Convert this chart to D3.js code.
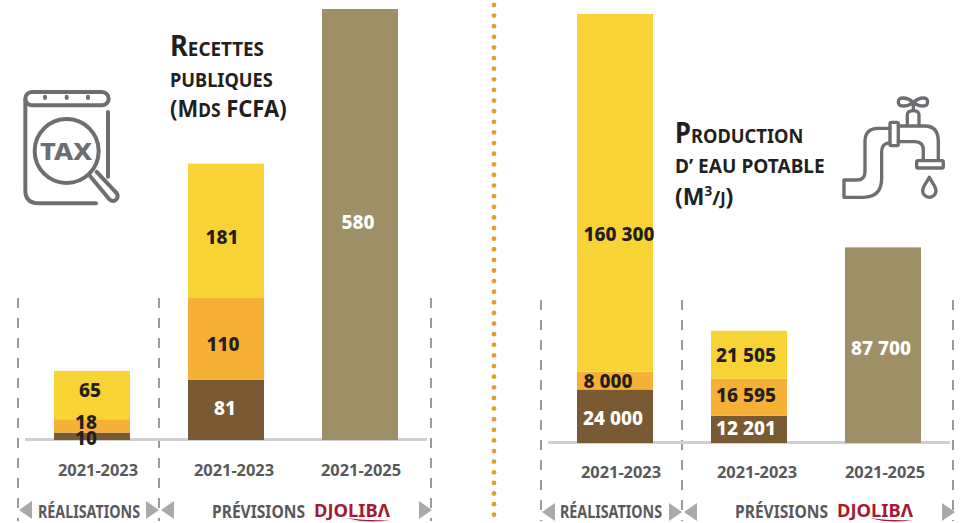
<!DOCTYPE html>
<html>
<head>
<meta charset="utf-8">
<script src="https://cdn.jsdelivr.net/npm/d3@7"></script>
<style>
  html, body { margin: 0; padding: 0; background: #fff; }
  svg { display: block; font-family: "Noto Sans", sans-serif; }
</style>
</head>
<body>
<div id="chart"></div>
<script>
const periods = ["2021-2023", "2021-2023", "2021-2025"];
const segmentKeys = ["base", "middle", "top", "forecast"];

// Recettes publiques (Mds FCFA)
const recettesBase = [10, 81, 0];
const recettesMiddle = [18, 110, 0];
const recettesTop = [65, 181, 0];
const recettesForecast = [0, 0, 580];

// Production d'eau potable (m3/j)
const eauBase = [24000, 12201, 0];
const eauMiddle = [8000, 16595, 0];
const eauTop = [160300, 21505, 0];
const eauForecast = [0, 0, 87700];

const segmentColor = { base: "#7a5a33", middle: "#f5b035", top: "#f7d335", forecast: "#9e8f67" };
const labelColor = { base: "#fff", middle: "#231f20", top: "#231f20", forecast: "#fff" };
const grey = "#58595b";
const iconGrey = "#6d6e71";
const arrowGrey = "#a7a9ac";
const red = "#a6192e";

const svg = d3.select("#chart").append("svg").attr("width", 970).attr("height", 523);

const spaced = d3.formatLocale({ thousands: " ", grouping: [3], decimal: ",", currency: ["", ""] }).format(",");

function rows(base, middle, top, forecast) {
    return periods.map((p, i) => ({ i: i, base: base[i], middle: middle[i], top: top[i], forecast: forecast[i] }));
}

function drawPanel(o) {
    const g = svg.append("g");
    const stacked = d3.stack().keys(segmentKeys)(o.data);

    const x = d3.scalePoint().domain(d3.range(periods.length)).range(o.centers);
    const y = d3.scaleLinear().domain([0, o.maxValue]).range([o.baseline, o.top]);
    const barW = 76;

    // dashed separators
    o.dashes.forEach(dx => {
        g.append("line").attr("x1", dx).attr("x2", dx).attr("y1", o.dashTop).attr("y2", 521)
            .attr("stroke", "#808285").attr("stroke-width", 1.6).attr("stroke-dasharray", "10 10");
    });

    // baseline
    g.append("rect").attr("x", o.lineX[0]).attr("width", o.lineX[1] - o.lineX[0])
        .attr("y", o.baseline - 2).attr("height", 3).attr("fill", "#cfd0d2");

    stacked.forEach(s => {
        g.selectAll(null).data(s.filter(d => d[1] > d[0])).enter().append("rect")
            .attr("x", d => x(d.data.i) - barW / 2)
            .attr("width", barW)
            .attr("y", d => y(d[1]))
            .attr("height", d => y(d[0]) - y(d[1]))
            .attr("fill", segmentColor[s.key]);
    });

    stacked.forEach(s => {
        g.selectAll(null).data(s.filter(d => d[1] > d[0])).enter().append("text")
            .attr("x", d => x(d.data.i) + o.labelDx[s.key][d.data.i])
            .attr("y", d => (y(d[0]) + y(d[1])) / 2 + 7 + o.labelDy[s.key][d.data.i])
            .attr("text-anchor", "middle")
            .attr("font-size", 19)
            .attr("font-weight", 800)
            .attr("fill", d => (o.darkFirst && d.data.i === 0) ? "#231f20" : labelColor[s.key])
            .text(d => spaced(d[1] - d[0]));
    });

    // period labels
    periods.forEach((p, i) => {
        g.append("text").attr("x", o.periodX[i]).attr("y", o.periodY)
            .attr("text-anchor", "middle").attr("font-size", 16.4).attr("font-weight", 700)
            .attr("fill", grey).text(p);
    });

    // arrows
    o.arrowsLeft.forEach(a => {
        g.append("path").attr("d", `M${a},${o.arrowY + 9} L${a + 13},${o.arrowY} V${o.arrowY + 18} Z`).attr("fill", arrowGrey);
    });
    o.arrowsRight.forEach(a => {
        g.append("path").attr("d", `M${a},${o.arrowY} L${a + 13},${o.arrowY + 9} L${a},${o.arrowY + 18} Z`).attr("fill", arrowGrey);
    });

    g.append("text").attr("x", o.realX).attr("y", o.footY).attr("font-size", 17).attr("font-weight", 700)
        .attr("fill", grey).attr("textLength", 102).attr("lengthAdjust", "spacingAndGlyphs").text("RÉALISATIONS");
    g.append("text").attr("x", o.prevX).attr("y", o.footY).attr("font-size", 17).attr("font-weight", 700)
        .attr("fill", grey).attr("textLength", 93).attr("lengthAdjust", "spacingAndGlyphs").text("PRÉVISIONS");

    // logo
    g.append("text").attr("x", o.prevX + 102).attr("y", o.footY - 1).attr("font-size", 18).attr("font-weight", 700)
        .attr("fill", red).attr("textLength", 76).attr("lengthAdjust", "spacingAndGlyphs").text("DJOLIBΛ");
    g.append("path")
        .attr("d", `M${o.prevX + 135},${o.footY} Q${o.prevX + 155},${o.footY + 3} ${o.prevX + 178},${o.footY + 2} Q${o.prevX + 155},${o.footY + 6} ${o.prevX + 135},${o.footY} Z`)
        .attr("fill", red);
}

function drawTitle(x, lines) {
    lines.forEach(line => {
        const t = svg.append("text").attr("fill", "#231f20").attr("font-weight", 700)
            .attr("transform", `translate(${x},${line.y}) scale(${line.sx},1)`);
        line.parts.forEach(p => {
            const s = t.append("tspan").attr("font-size", p[1]).text(p[0]);
            if (p[2]) s.attr("dy", p[2]);
        });
    });
}

drawPanel({
    data: rows(recettesBase, recettesMiddle, recettesTop, recettesForecast),
    centers: [92, 360], maxValue: 580, baseline: 440, top: 9,
    dashes: [18, 159, 431], dashTop: 298, lineX: [25, 427],
    labelDx: { base: [-6, -1, 0], middle: [-6, -3, 0], top: [-2, -4, 0], forecast: [0, 0, -2] },
    labelDy: { base: [2, -2, 0], middle: [-4, 5, 0], top: [-5, 6, 0], forecast: [0, 0, -2.5] },
    darkFirst: true,
    periodX: [98, 234, 361], periodY: 476,
    arrowsLeft: [19, 161], arrowsRight: [146, 419], arrowY: 501,
    realX: 38, prevX: 212, footY: 518
});

drawPanel({
    data: rows(eauBase, eauMiddle, eauTop, eauForecast),
    centers: [615, 883], maxValue: 192300, baseline: 443, top: 14,
    dashes: [541, 682, 953], dashTop: 300, lineX: [548, 950],
    labelDx: { base: [-2, -3, 0], middle: [-7, -3, 0], top: [4, -3, 0], forecast: [0, 0, -2] },
    labelDy: { base: [2, -1.5, 0], middle: [0, -2, 0], top: [41.5, 0, 0], forecast: [0, 0, 3] },
    darkFirst: false,
    periodX: [621, 757, 885], periodY: 478,
    arrowsLeft: [542, 684], arrowsRight: [669, 942], arrowY: 503,
    realX: 560, prevX: 735, footY: 518
});

// dotted divider
svg.append("g").selectAll("circle").data(d3.range(0, 49)).enter().append("circle")
    .attr("cx", 494).attr("cy", d => 5 + d * 10.62).attr("r", 2.4).attr("fill", "#dfa02b");

drawTitle(170, [
    { y: 56, sx: 0.94, parts: [["R", 29], ["ECETTES", 20]] },
    { y: 87, sx: 0.91, parts: [["PUBLIQUES", 20]] },
    { y: 117, sx: 0.915, parts: [["(M", 24], ["DS", 19], [" FCFA)", 24]] }
]);
drawTitle(675, [
    { y: 143, sx: 0.915, parts: [["P", 28], ["RODUCTION", 20]] },
    { y: 173, sx: 0.955, parts: [["D’ EAU POTABLE", 20]] },
    { y: 205, sx: 0.96, parts: [["(M", 24], ["3", 14, -9], ["/", 20, 9], ["J", 17], [")", 24]] }
]);

// tax icon, drawn on a 3x grid
const tax = svg.append("g").attr("transform", "scale(0.3333)")
    .attr("fill", "none").attr("stroke", iconGrey).attr("stroke-width", 12).attr("stroke-linecap", "round").attr("stroke-linejoin", "round");
tax.append("rect").attr("x", 76).attr("y", 276).attr("width", 250).attr("height", 40).attr("rx", 20);
tax.append("path").attr("d", "M76,300 V570 Q76,610 116,610 H288");
tax.append("path").attr("d", "M324,336 V530");
[135, 200, 264].forEach(tx => tax.append("path").attr("d", `M${tx},290 V294`));
tax.append("circle").attr("cx", 200).attr("cy", 453).attr("r", 96);
tax.append("path").attr("d", "M270,528 L328,598 Q342,610 352,594 Q356,584 345,574 L290,516");
svg.append("text").attr("x", 40).attr("y", 160).attr("font-size", 23).attr("font-weight", 800)
    .attr("fill", iconGrey).attr("textLength", 52).attr("lengthAdjust", "spacingAndGlyphs").text("TAX");

// tap icon, drawn on a 3x grid from (650,80)
const tap = svg.append("g").attr("transform", "translate(650,80) scale(0.3333)")
    .attr("fill", "none").attr("stroke", iconGrey).attr("stroke-width", 10).attr("stroke-linejoin", "round").attr("stroke-linecap", "round");
tap.append("path").attr("d", "M720,145 H685 Q645,145 645,185 V275 Q645,300 620,300 H582 V352 H640 Q695,352 695,295 V215 Q695,190 720,188");
tap.append("rect").attr("x", 720).attr("y", 127).attr("width", 25).attr("height", 70).attr("rx", 4);
tap.append("path").attr("d", "M745,138 H825 Q865,138 865,185 V240");
tap.append("path").attr("d", "M745,185 H795 Q820,185 820,210 V240");
tap.append("rect").attr("x", 800).attr("y", 242).attr("width", 80).attr("height", 22).attr("rx", 4);
tap.append("path").attr("d", "M772,133 V105 Q772,92 790,92 Q807,92 807,105 V133");
tap.append("path").attr("d", "M790,67 V92 M790,67 C770,50 745,50 745,65 C745,82 770,82 790,67 C810,50 833,50 833,65 C833,82 810,82 790,67");
tap.append("path").attr("d", "M838,292 C828,310 818,320 818,332 A20,20 0 0 0 858,332 C858,320 848,310 838,292 Z");
</script>
</body>
</html>
